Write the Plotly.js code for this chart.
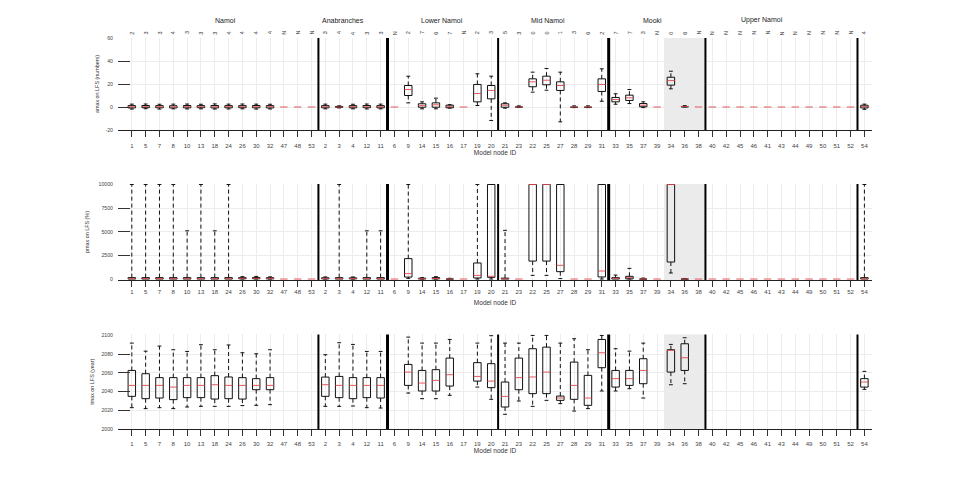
<!DOCTYPE html>
<html>
<head>
<meta charset="utf-8">
<script src="https://cdn.plot.ly/plotly-3.0.1.min.js"></script>
<style>html,body{margin:0;padding:0;background:#fff;}#chart{width:963px;height:497px;}</style>
</head>
<body>
<div id="chart"></div>
<script>
// ---------------- DATA ----------------
const groupNames = ['Namoi','Anabranches','Lower Namoi','Mid Namoi','Mooki','Upper Namoi','Lake Goran'];
const groupNodes = [
  [1,5,7,8,10,13,18,24,26,30,32,47,48,53],
  [2,3,4,12,11],
  [6,9,14,15,16,17,19,20],
  [21,23,22,25,27,28,29,31],
  [33,35,37,39,34,36,38],
  [40,42,45,46,41,43,44,49,50,51,52],
  [54]
];
const countLabels = [
  '2','3','3','4','3','3','3','4','4','4','4','N','N','N',
  '3','4','4','3','3',
  'N','2','7','6','7','N','2','3',
  '5','3','0','0','1','3','6','2',
  '7','7','3','N','0','6','N',
  'N','N','N','N','N','N','N','N','N','N','N',
  '4'
];
const shadedNodes = [34,36,38];

// amax on LFS (numbers)
const amaxLow  = [-1.8,-1.5,-1.8,-1.6,-1.7,-1.6,-1.8,-1.7,-1.6,-1.8,-1.7,0,0,0, -1.6,-0.8,-1.6,-1.7,-1.6, 0,3.6,-1.6,-1.6,-1,0,1.3,-11.7, -1,-0.3,12.9,14.6,-12.9,-0.5,-0.5,5, 2.4,3,-0.5,0,15.8,0,0, 0,0,0,0,0,0,0,0,0,0,0, -2];
const amaxQ1   = [-0.8,-0.6,-0.7,-0.8,-0.7,-0.6,-0.8,-0.7,-0.6,-0.7,-0.8,0,0,0, -0.7,-0.3,-0.7,-0.6,-0.7, 0,10,-0.2,-0.2,-0.7,0,4.5,7.1, -0.2,0,17.6,19.3,14.4,-0.2,-0.2,13.5, 4.5,5.7,0.2,0,19,0.2,0, 0,0,0,0,0,0,0,0,0,0,0, -0.8];
const amaxMed  = [0.2,0.3,0.2,0.2,0.3,0.2,0.2,0.3,0.2,0.2,0.3,0,0,0, 0.2,0,0.3,0.2,0.2, 0,15.2,1.2,1.9,0.3,0,11.7,14.4, 1.5,0,21.9,23.3,18.7,0,0,19.6, 6.5,8,1.5,0,23,0.5,0, 0,0,0,0,0,0,0,0,0,0,0, 0.5];
const amaxQ3   = [1.2,1.3,1.2,1.1,1.3,1.2,1.3,1.2,1.2,1.3,1.2,0,0,0, 1.2,0.5,1.2,1.3,1.2, 0,18.7,2.8,3.6,1.6,0,19.6,18.7, 2.8,0.3,24.5,26.8,21.9,0.3,0.3,24.5, 8.3,10.3,3,0,25.9,0.8,0, 0,0,0,0,0,0,0,0,0,0,0, 1.5];
const amaxHigh = [2.5,2.6,2.4,2.5,2.6,2.4,2.7,2.5,2.6,2.5,2.4,0,0,0, 2.5,1,2.4,2.6,2.5, 0,26.8,4.5,7.7,2,0,28.9,26.8, 3.6,1,30.3,33.5,30.3,1,1,33.2, 11.5,15.2,4.5,0,31.1,1.2,0, 0,0,0,0,0,0,0,0,0,0,0, 2.5];

// pmax on LFS (%)
const pmaxLow  = [0,0,0,0,0,0,0,0,0,0,0,0,0,0, 0,0,0,0,0, 0,70,0,0,0,0,0,0, 0,0,390,390,50,0,0,0, 0,0,0,0,640,0,0, 0,0,0,0,0,0,0,0,0,0,0, 0];
const pmaxQ1   = [0,0,0,0,0,0,0,0,30,30,20,0,0,0, 20,0,20,0,0, 0,210,10,20,0,0,110,180, 0,0,1900,1900,780,0,0,220, 0,20,0,0,1800,0,0, 0,0,0,0,0,0,0,0,0,0,0, 0];
const pmaxMed  = [40,40,40,40,40,40,40,40,80,80,70,0,0,0, 60,40,60,40,40, 0,570,40,60,20,0,390,290, 30,0,10000,10000,1450,0,0,850, 80,150,20,0,10000,20,0, 0,0,0,0,0,0,0,0,0,0,0, 40];
const pmaxQ3   = [150,150,150,150,150,150,150,150,150,160,140,0,0,0, 130,150,130,150,150, 0,2160,90,150,50,0,1700,10000, 100,0,10000,10000,10000,0,0,10000, 150,290,50,0,10000,40,0, 0,0,0,0,0,0,0,0,0,0,0, 150];
const pmaxHigh = [10000,10000,10000,10000,5100,10000,5100,10000,250,280,230,0,0,0, 220,10000,220,5100,5100, 0,10000,150,250,80,0,10000,10000, 5150,0,10000,10000,10000,0,0,10000, 420,1130,100,0,10000,60,0, 0,0,0,0,0,0,0,0,0,0,0, 10000];

// tmax on LFS (year)
const N = null;
const tmaxLow  = [2022.8,2021.8,2022.8,2021.8,2023.5,2024.2,2024.2,2024.2,2025,2025.3,2026,N,N,N, 2024.2,2024.2,2024.6,2022.8,2022.4, N,2038.4,2032.4,2032.4,2036,N,2044.8,2031.7, 2015.7,2029.9,2024.2,2030.6,2027.1,2019.2,2021.8,2040.6, 2040.6,2043.1,2033.1,N,2047.3,2048.4,N, N,N,N,N,N,N,N,N,N,N,N, 2042.4];
const tmaxQ1   = [2034.9,2032.4,2033.1,2031.4,2033.5,2033.5,2032,2032.4,2032,2042,2042,N,N,N, 2034.9,2033.5,2032.4,2033.5,2033.1, N,2046.6,2040.6,2040.6,2045.9,N,2051.2,2044.2, 2023.5,2042,2037.8,2037.8,2030.6,2031.7,2025.3,2065.5, 2044.8,2046.6,2048.4,N,2060.8,2062.6,N, N,N,N,N,N,N,N,N,N,N,N, 2044.8];
const tmaxMed  = [2046.6,2046.6,2046.6,2044.8,2046.6,2046.6,2047.3,2046.6,2046.6,2046.6,2046.6,N,N,N, 2047.3,2046.6,2046.6,2046.6,2046.6, N,2060.8,2049.1,2052,2058,N,2056.2,2051.2, 2034.9,2054.9,2055.6,2060.8,2033.1,2046.6,2033.1,2081.5, 2053.8,2053.8,2062.6,N,2084,2076.2,N, N,N,N,N,N,N,N,N,N,N,N, 2050.2];
const tmaxQ3   = [2062.6,2059.1,2054.9,2054.9,2054.9,2054.9,2057,2055.6,2054.9,2053.8,2054.9,N,N,N, 2055.5,2056.2,2054.9,2054.9,2054.9, N,2069,2062.6,2063.4,2075.8,N,2070.9,2069.8, 2050.2,2075.8,2085.8,2087.5,2035.2,2071.5,2057.3,2095.7, 2062.6,2062.6,2075.1,N,2084.7,2091.1,N, N,N,N,N,N,N,N,N,N,N,N, 2053.8];
const tmaxHigh = [2091.8,2083.2,2088.6,2084.7,2082.9,2090.1,2084.7,2089.8,2081.5,2080.4,2084.7,N,N,N, 2079.4,2092.2,2090.4,2082.9,2082.9, N,2098.2,2091.8,2091.8,2095.7,N,2091.8,2099.7, 2091.8,2091.8,2100,2100,2091.8,2096.5,2084.7,2100, 2085.8,2083.2,2091.8,N,2090.4,2097.5,N, N,N,N,N,N,N,N,N,N,N,N, 2061.6];

// ---------------- BUILD ----------------
const nodeIds = groupNodes.flat();
const idx = nodeIds.map((_, i) => i + 1);
const BOXW = 0.27, CAPW = 0.14;
const FONT = 'Liberation Sans, Arial, Helvetica, sans-serif';
const MEDCOL = '#e0474c';

function boxTraces(lo, q1, med, q3, hi, xa, ya) {
  const bx=[],by=[],wx=[],wy=[],cx=[],cy=[],mx=[],my=[];
  for (let i = 0; i < idx.length; i++) {
    if (med[i] === null) continue;
    const x = idx[i];
    if (q3[i] > q1[i]) {
      bx.push(x-BOXW, x+BOXW, x+BOXW, x-BOXW, x-BOXW, null);
      by.push(q1[i], q1[i], q3[i], q3[i], q1[i], null);
    }
    if (hi[i] > q3[i]) {
      wx.push(x, x, null); wy.push(q3[i], hi[i], null);
      cx.push(x-CAPW, x+CAPW, null); cy.push(hi[i], hi[i], null);
    }
    if (lo[i] < q1[i]) {
      wx.push(x, x, null); wy.push(q1[i], lo[i], null);
      cx.push(x-CAPW, x+CAPW, null); cy.push(lo[i], lo[i], null);
    }
    mx.push(x-BOXW, x+BOXW, null); my.push(med[i], med[i], null);
  }
  const base = {type:'scatter', mode:'lines', xaxis:xa, yaxis:ya, hoverinfo:'skip', showlegend:false};
  return [
    Object.assign({}, base, {x:wx, y:wy, line:{color:'#111', width:1, dash:'4px,3px'}}),
    Object.assign({}, base, {x:cx, y:cy, line:{color:'#111', width:1}}),
    Object.assign({}, base, {x:bx, y:by, line:{color:'#111', width:1}}),
    Object.assign({}, base, {x:mx, y:my, line:{color:MEDCOL, width:0.9}})
  ];
}

const data = [].concat(
  boxTraces(amaxLow, amaxQ1, amaxMed, amaxQ3, amaxHigh, 'x', 'y'),
  boxTraces(pmaxLow, pmaxQ1, pmaxMed, pmaxQ3, pmaxHigh, 'x2', 'y2'),
  boxTraces(tmaxLow, tmaxQ1, tmaxMed, tmaxQ3, tmaxHigh, 'x3', 'y3')
);

const XR = [0, 54.55];
function xAxis(anchor, standoff, titleStandoff) {
  return {
    anchor: anchor, domain: [0, 1], range: XR, autorange: false,
    tickmode: 'array', tickvals: idx, ticktext: nodeIds.map(String),
    ticks: 'outside', ticklen: 6, tickcolor: '#333', tickwidth: 1,
    showline: true, linecolor: '#222', linewidth: 1, mirror: false,
    showgrid: true, gridcolor: '#ececec', gridwidth: 1, zeroline: false,
    tickfont: {family: FONT, size: 6, color: '#444'},
    ticklabelstandoff: standoff,
    title: {text: 'Model node ID', font: {family: FONT, size: 6.5, color: '#333'}, standoff: titleStandoff}
  };
}
function yAxis(anchor, domain, range, tickvals, title, standoff) {
  return {
    anchor: anchor, domain: domain, range: range, autorange: false,
    tickmode: 'array', tickvals: tickvals, ticktext: tickvals.map(String),
    ticks: 'inside', ticklen: 12, tickcolor: '#333', tickwidth: 1,
    showline: false, showgrid: true, gridcolor: '#ececec', zeroline: false,
    tickfont: {family: FONT, size: 5.2, color: '#444'},
    ticklabelstandoff: 4,
    title: {text: title, font: {family: FONT, size: 5.4, color: '#333'}, standoff: standoff}
  };
}

// separators between groups and shaded region, from group sizes
const shapes = [];
const sepWidths = [2, 3, 2, 3, 2, 2];
let cum = 0;
const panels = ['y', 'y2', 'y3'];
const panelX = ['x', 'x2', 'x3'];
for (let g = 0; g < groupNodes.length - 1; g++) {
  cum += groupNodes[g].length;
  panels.forEach((p, k) => shapes.push({
    type: 'line', xref: panelX[k], yref: p + ' domain', x0: cum + 0.5, x1: cum + 0.5, y0: 0, y1: 1,
    line: {color: '#000', width: sepWidths[g]}, layer: 'above'
  }));
}
const shadeIdx = shadedNodes.map(n => nodeIds.indexOf(n) + 1);
panels.forEach((p, k) => shapes.push({
  type: 'rect', xref: panelX[k], yref: p + ' domain',
  x0: Math.min(...shadeIdx) - 0.5, x1: Math.max(...shadeIdx) + 0.5, y0: 0, y1: 1,
  fillcolor: '#ebebeb', line: {width: 0}, layer: 'below'
}));

// annotations: group titles and count labels
const groupLabelX = [7.8, 16.3, 23.45, 31.1, 38.7, 46.6, 54.8];
const annotations = [];
groupNames.forEach((g, i) => annotations.push({
  text: g, xref: 'x', yref: 'paper', x: groupLabelX[i], y: 1.046, showarrow: false,
  xanchor: 'center', yanchor: 'middle', font: {family: FONT, size: 7, color: '#222'}
}));
countLabels.forEach((c, i) => annotations.push({
  text: c, xref: 'x', yref: 'paper', x: idx[i], y: 1.013, showarrow: false, textangle: -90,
  xanchor: 'center', yanchor: 'middle', font: {family: FONT, size: 5.5, color: '#333'}
}));

const layout = {
  width: 963, height: 497,
  margin: {l: 118, r: 91, t: 38, b: 68},
  paper_bgcolor: '#fff', plot_bgcolor: '#fff',
  showlegend: false,
  xaxis: xAxis('y', 4, 1),
  xaxis2: xAxis('y2', 0, 6),
  xaxis3: xAxis('y3', 3, 2),
  yaxis: yAxis('x', [0.7647, 1], [-20, 60], [-20, 0, 20, 40, 60], 'amax on LFS (numbers)', 5),
  yaxis2: yAxis('x2', [0.3811, 0.6266], [-100, 10050], [0, 2500, 5000, 7500, 10000], 'pmax on LFS (%)', 8),
  yaxis3: yAxis('x3', [0, 0.2417], [2000, 2101], [2000, 2020, 2040, 2060, 2080, 2100], 'tmax on LFS (year)', 6),
  shapes: shapes,
  annotations: annotations
};

Plotly.newPlot('chart', data, layout, {staticPlot: true, displayModeBar: false});
</script>
</body>
</html>
